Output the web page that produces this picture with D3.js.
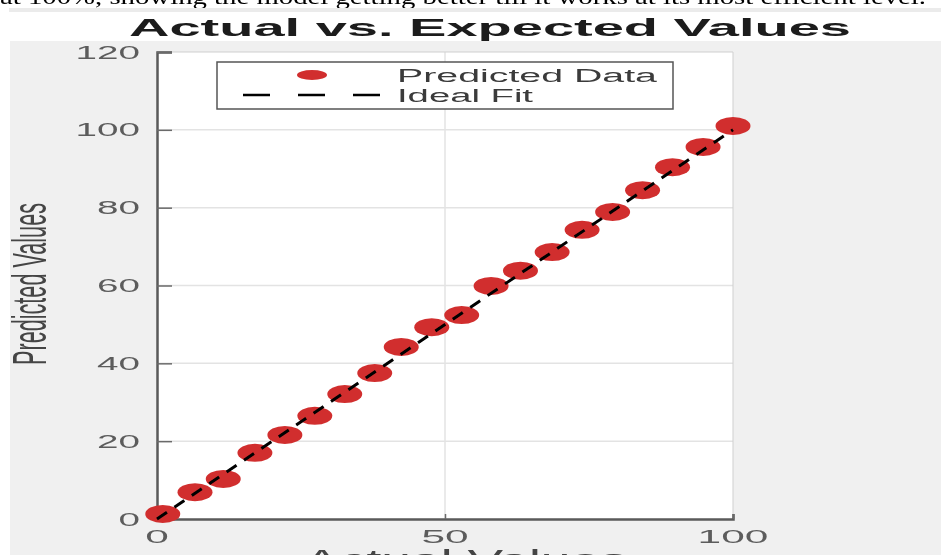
<!DOCTYPE html>
<meta charset="utf-8">

<!-- Load d3.js -->
<script src="https://d3js.org/d3.v7.min.js"></script>

<style>
body {
  margin: 0;
  background: white;
}
#my_dataviz svg {
  display: block;
}
</style>

<div id="my_dataviz"></div>

<script>

// data
var actualValues = [1, 6.6, 11.5, 17.0, 22.2, 27.4, 32.6, 37.8, 42.4, 47.7,
                    52.9, 58.0, 63.1, 68.6, 73.8, 79.1, 84.3, 89.5, 94.8, 100];
var predictedValues = [1.3, 6.9, 10.3, 17.0, 21.6, 26.5, 32.1, 37.5, 44.2, 49.3,
                       52.4, 59.9, 63.8, 68.6, 74.3, 78.9, 84.5, 90.4, 95.6, 101.0];
var idealX = [0, 100];
var idealY = [0, 100];
var yTicks = [0, 20, 40, 60, 80, 100, 120];
var xTicks = [0, 50, 100];
var legendLabels = ["Predicted Data", "Ideal Fit"];

var W = 941, H = 555;
var red = "#d12f2f";

var svg = d3.select("#my_dataviz")
  .append("svg")
    .attr("width", W)
    .attr("height", H);

// soft edges like the reference
svg.append("defs").append("filter")
    .attr("id", "soft")
  .append("feGaussianBlur")
    .attr("stdDeviation", 0.7);

var root = svg.append("g").attr("filter", "url(#soft)");

// caption text cut at the top
root.append("text")
  .attr("x", 0).attr("y", 4)
  .attr("textLength", 926).attr("lengthAdjust", "spacingAndGlyphs")
  .style("font-family", "'Liberation Serif', 'Times New Roman', serif")
  .style("font-size", "22px")
  .attr("fill", "black")
  .text("at 100%, showing the model getting better till it works at its most efficient level.");

root.append("rect").attr("x", 9).attr("y", 8).attr("width", W - 9).attr("height", 4).attr("fill", "#ebebeb");

// figure background
root.append("rect").attr("x", 10).attr("y", 41).attr("width", W - 10).attr("height", H - 41).attr("fill", "#f0f0f0");

// scales
var x = d3.scaleLinear().domain([0, 100]).range([157, 733]);
var y = d3.scaleLinear().domain([0, 120]).range([519, 52]);

// plot area
root.append("rect")
  .attr("x", x(0)).attr("y", y(120))
  .attr("width", x(100) - x(0)).attr("height", y(0) - y(120))
  .attr("fill", "white");

// grid
root.append("g").selectAll("line")
  .data(yTicks.filter(function (d) { return d > 0 && d < 120; }))
  .enter().append("line")
    .attr("x1", x(0)).attr("x2", x(100))
    .attr("y1", function (d) { return y(d); }).attr("y2", function (d) { return y(d); })
    .attr("stroke", "#e3e3e3").attr("stroke-width", 1.5);
root.append("g").selectAll("line")
  .data(xTicks.filter(function (d) { return d > 0 && d < 100; }))
  .enter().append("line")
    .attr("y1", y(0)).attr("y2", y(120))
    .attr("x1", function (d) { return x(d); }).attr("x2", function (d) { return x(d); })
    .attr("stroke", "#e3e3e3").attr("stroke-width", 1.5);

// box: top and right light, left and bottom dark
root.append("line").attr("x1", x(0)).attr("x2", x(100)).attr("y1", y(120)).attr("y2", y(120)).attr("stroke", "#cfcfcf");
root.append("line").attr("x1", x(100)).attr("x2", x(100)).attr("y1", y(0)).attr("y2", y(120)).attr("stroke", "#cfcfcf");

// axes
var yAxis = d3.axisLeft(y).tickValues(yTicks).tickSize(-15).tickFormat("");
var xAxis = d3.axisBottom(x).tickValues(xTicks).tickSize(-5).tickFormat("");
var gy = root.append("g").attr("transform", "translate(" + x(0) + ",0)").call(yAxis);
var gx = root.append("g").attr("transform", "translate(0," + y(0) + ")").call(xAxis);
gy.select(".domain").attr("stroke", "#5a5a5a").attr("stroke-width", 2.5);
gx.select(".domain").attr("stroke", "#5a5a5a").attr("stroke-width", 2.5);
gy.selectAll(".tick line").attr("stroke", "#6a6a6a").attr("stroke-width", 1.5);
gx.selectAll(".tick line").attr("stroke", "#6a6a6a").attr("stroke-width", 1.5);

// tick labels, stretched like the picture
var tickFont = "'Liberation Sans', Arial, Helvetica, sans-serif";
root.append("g").selectAll("text")
  .data(yTicks)
  .enter().append("text")
    .attr("x", function (d) { return 140 - String(d).length * 21.5; })
    .attr("y", function (d) { return y(d) + 6.5; })
    .attr("textLength", function (d) { return String(d).length * 21.5; })
    .attr("lengthAdjust", "spacingAndGlyphs")
    .style("font-family", tickFont).style("font-size", "18px")
    .attr("fill", "#5c5c5c")
    .text(function (d) { return d; });
root.append("g").selectAll("text")
  .data(xTicks)
  .enter().append("text")
    .attr("x", function (d) { return x(d) - String(d).length * 11.8; })
    .attr("y", 543)
    .attr("textLength", function (d) { return String(d).length * 23.6; })
    .attr("lengthAdjust", "spacingAndGlyphs")
    .style("font-family", tickFont).style("font-size", "19px")
    .attr("fill", "#5c5c5c")
    .text(function (d) { return d; });

// axis titles
root.append("text")
  .attr("transform", "translate(46,284)rotate(-90)")
  .attr("x", -81).attr("y", 0)
  .attr("textLength", 162).attr("lengthAdjust", "spacingAndGlyphs")
  .style("font-family", tickFont).style("font-size", "48px")
  .attr("fill", "#444")
  .text("Predicted Values");

root.append("text")
  .attr("x", 304).attr("y", 569)
  .attr("textLength", 323).attr("lengthAdjust", "spacingAndGlyphs")
  .style("font-family", tickFont).style("font-size", "27px")
  .attr("fill", "#444")
  .text("Actual Values");

// title
root.append("text")
  .attr("x", 129).attr("y", 36)
  .attr("textLength", 722).attr("lengthAdjust", "spacingAndGlyphs")
  .style("font-family", tickFont).style("font-size", "24px").style("font-weight", "bold")
  .attr("fill", "#1a1a1a")
  .text("Actual vs. Expected Values");

// predicted points (ellipses because the picture is stretched)
root.append("g").selectAll("ellipse")
  .data(actualValues)
  .enter().append("ellipse")
    .attr("cx", function (d) { return x(d); })
    .attr("cy", function (d, i) { return y(predictedValues[i]); })
    .attr("rx", 17.5).attr("ry", 9)
    .attr("fill", red);

// ideal fit, dashed, drawn over the points
var line = d3.line()
  .x(function (d) { return x(d); })
  .y(function (d, i) { return y(idealY[i]); });
root.append("path")
  .datum(idealX)
  .attr("d", line)
  .attr("fill", "none")
  .attr("stroke", "black")
  .attr("stroke-width", 3)
  .attr("stroke-dasharray", "12,9");

// legend
var lg = root.append("g");
lg.append("rect")
  .attr("x", 217).attr("y", 62).attr("width", 456).attr("height", 47)
  .attr("fill", "white").attr("stroke", "#555").attr("stroke-width", 1.5);
lg.append("ellipse")
  .attr("cx", 312).attr("cy", 75).attr("rx", 15).attr("ry", 5)
  .attr("fill", red);
lg.append("line")
  .attr("x1", 243).attr("x2", 382).attr("y1", 95).attr("y2", 95)
  .attr("stroke", "black").attr("stroke-width", 2.5)
  .attr("stroke-dasharray", "27,28");
lg.selectAll("text.leg")
  .data(legendLabels)
  .enter().append("text")
    .attr("class", "leg")
    .attr("x", 397)
    .attr("y", function (d, i) { return 82 + i * 20; })
    .attr("textLength", function (d, i) { return i === 0 ? 260 : 136; })
    .attr("lengthAdjust", "spacingAndGlyphs")
    .style("font-family", tickFont).style("font-size", "18px")
    .attr("fill", "#3a3a3a")
    .text(function (d) { return d; });

</script>
